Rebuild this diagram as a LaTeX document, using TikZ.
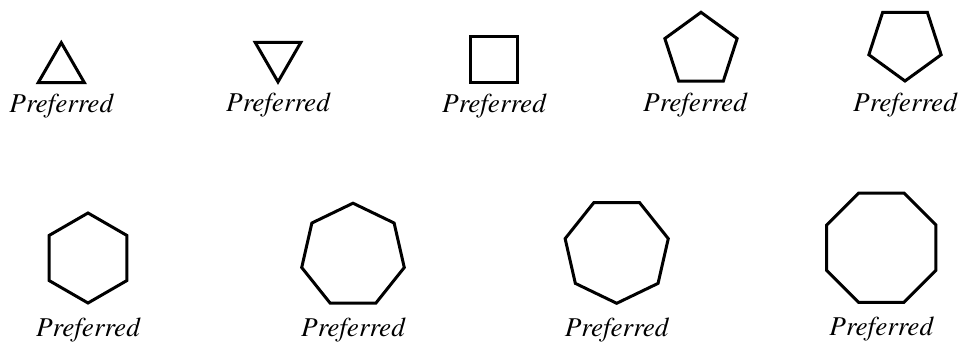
\documentclass[tikz,border=0pt]{standalone}
\usepackage[T1]{fontenc}
\usetikzlibrary{positioning,shapes.geometric}
\tikzset{
  poly/.style={draw,regular polygon,regular polygon sides=#1,line width=1.5pt,inner sep=0pt,outer sep=0pt},
  lbl/.style={font=\fontfamily{ptm}\fontsize{13.6}{16}\selectfont\itshape,inner sep=0pt}
}
\begin{document}
\begin{tikzpicture}[x=0.5pt,y=-0.5pt,node distance=5.6pt]
  \useasboundingbox (0,0) rectangle (960,342);
  % Top row
  \node[poly=3, minimum size=53.2pt/2] (tri) at (61.3,69.3) {};
  \node[poly=3, regular polygon rotate=180, minimum size=52.8pt/2] (itri) at (278,55.5) {};
  \node[poly=4, minimum size=65.4pt/2] (sq) at (494,59.3) {};
  \node[poly=5, minimum size=76pt/2] (pent) at (701,50.3) {};
  \node[poly=5, regular polygon rotate=180, minimum size=76pt/2] (ipent) at (905,43) {};

  \node[lbl, below=of tri] (ltri) {Preferred};
  \node[lbl, below=of itri] (litri) {Preferred};
  \node[lbl, below=of sq] (lsq) {Preferred};
  \node[lbl, below=of pent, xshift=-3pt] (lpent) {Preferred};
  \node[lbl, below=of ipent] (lipent) {Preferred};

  % Bottom row
  \node[poly=6, regular polygon rotate=30, minimum size=90pt/2] (hex) at (88,258) {};
  \node[poly=7, minimum size=105.2pt/2] (hept) at (353,255.8) {};
  \node[poly=7, regular polygon rotate=180, minimum size=105.8pt/2] (ihept) at (616.7,250.4) {};
  \node[poly=8, minimum size=118.4pt/2] (oct) at (881.3,247.7) {};

  \node[lbl, below=7.2pt of hex] (lhex) {Preferred};
  \node[lbl, below=7.2pt of hept] (lhept) {Preferred};
  \node[lbl, below=7.2pt of ihept] (lihept) {Preferred};
  \node[lbl, below=7.2pt of oct] (loct) {Preferred};
\end{tikzpicture}
\end{document}
